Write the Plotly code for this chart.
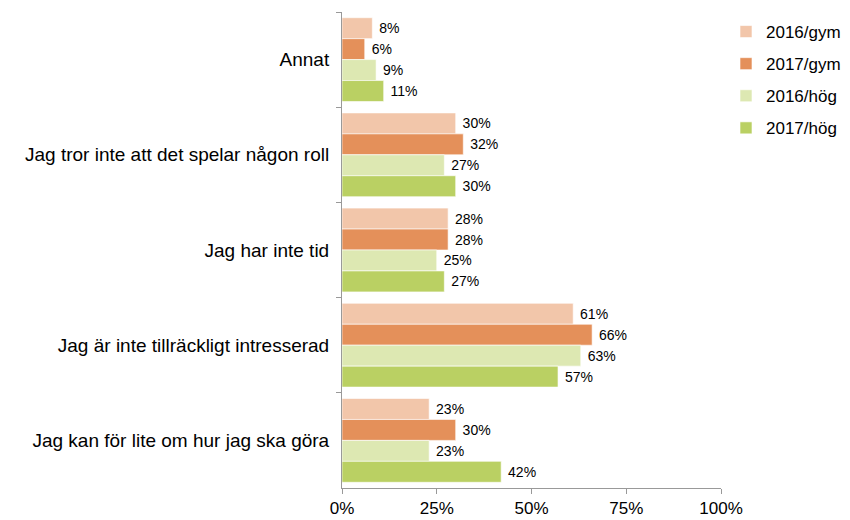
import plotly.graph_objects as go

categories = ["Annat", "Jag tror inte att det spelar någon roll", "Jag har inte tid",
              "Jag är inte tillräckligt intresserad", "Jag kan för lite om hur jag ska göra"]
series_names = ["2016/gym", "2017/gym", "2016/hög", "2017/hög"]
v_2016_gym = [8, 30, 28, 61, 23]
v_2017_gym = [6, 32, 28, 66, 30]
v_2016_hog = [9, 27, 25, 63, 23]
v_2017_hog = [11, 30, 27, 57, 42]
tick_vals = [0, 25, 50, 75, 100]
tick_text = ["0%", "25%", "50%", "75%", "100%"]

colors = ["#F2C6AA", "#E4905A", "#DDE8B2", "#BAD063"]
series = [v_2016_gym, v_2017_gym, v_2016_hog, v_2017_hog]

fig = go.Figure()
for name, vals, col in zip(series_names, series, colors):
    fig.add_trace(go.Bar(
        y=categories, x=vals, name=name, orientation="h", legendgroup=name,
        marker=dict(color=col, line=dict(color="rgba(255,255,255,0.6)", width=1)),
        text=[f" {v}%" for v in vals], textposition="outside",
        textfont=dict(family="Liberation Sans, Arial", size=14, color="#000"),
        cliponaxis=False,
    ))

fig.update_layout(
    width=850, height=520,
    barmode="group", bargap=0.12, bargroupgap=0,
    plot_bgcolor="white", paper_bgcolor="white",
    margin=dict(l=342, r=129, t=12, b=32, autoexpand=False),
    font=dict(family="Liberation Sans, Arial", size=17, color="#000"),
    legend=dict(xref="container", yref="container", x=726/850, y=1 - 14/520,
                xanchor="left", yanchor="top",
                font=dict(size=17), itemwidth=30, tracegroupgap=7),
    showlegend=True,
)
fig.update_xaxes(range=[0, 100], tickvals=tick_vals, ticktext=tick_text,
                 showgrid=False, zeroline=False, showline=True, linecolor="#999",
                 ticks="outside", ticklen=5, tickcolor="#999", automargin=False,
                 tickfont=dict(size=17))
fig.update_yaxes(autorange="reversed", showgrid=False, showline=True, linecolor="#999",
                 ticks="outside", ticklen=5, tickcolor="#999", tickson="boundaries",
                 automargin=False, ticklabelstandoff=8,
                 tickfont=dict(size=19))

fig.write_html("out.html", config={"displayModeBar": False},
               post_script="document.body.style.margin='0';")
